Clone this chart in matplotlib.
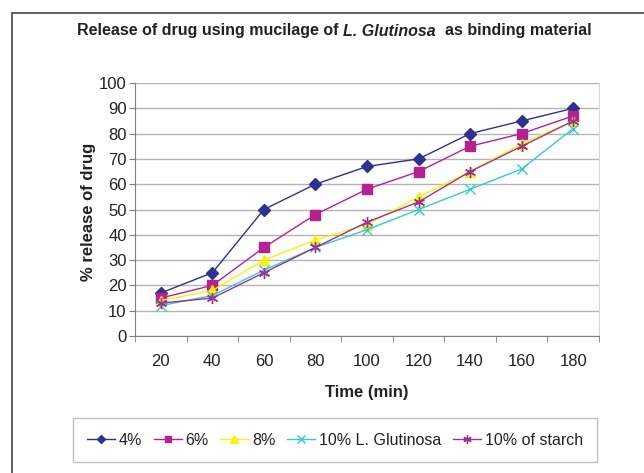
import matplotlib
matplotlib.use("Agg")
import matplotlib.pyplot as plt
from matplotlib.patches import Rectangle
from matplotlib.ticker import MultipleLocator

plt.rcParams['font.family'] = ['Liberation Sans', 'DejaVu Sans']

time_min = ["20", "40", "60", "80", "100", "120", "140", "160", "180"]
pct_4 = [17, 25, 50, 60, 67, 70, 80, 85, 90]
pct_6 = [15, 20, 35, 48, 58, 65, 75, 80, 87]
pct_8 = [14, 18, 30, 38, 44, 55, 65, 76, 85]
pct_10_lg = [12, 16, 26, 35, 42, 50, 58, 66, 82]
pct_10_starch = [13, 15, 25, 35, 45, 53, 65, 75, 85]

series = [
    ("4%", pct_4, "#2E3192", "D", 6),
    ("6%", pct_6, "#B5218E", "s", 6.5),
    ("8%", pct_8, "#FFF200", "^", 7),
    ("10% L. Glutinosa", pct_10_lg, "#33CCCC", "x", 7),
    ("10% of starch", pct_10_starch, "#993399", (6, 2, 0), 8),
]

fig = plt.figure(figsize=(6.44, 4.73), dpi=100)
ax = fig.add_axes([135/644, 1-336/473, 464/644, 253/473])

x = list(range(len(time_min)))
for name, vals, col, mk, ms in series:
    ax.plot(x, vals, color=col, marker=mk, markersize=ms, linewidth=1,
            markeredgecolor=col, markerfacecolor=col, label=name)

ax.set_xlim(-0.5, len(time_min) - 0.5)
ax.set_ylim(0, 100)
ax.yaxis.set_major_locator(MultipleLocator(10))
ax.set_xticks(x)
ax.set_xticklabels(time_min)
ax.set_xticks([i - 0.5 for i in range(len(time_min) + 1)], minor=True)
ax.tick_params(axis='x', which='major', length=0, pad=13, labelsize=12, labelcolor='#222222')
ax.tick_params(axis='x', which='minor', length=4, color='#808080', direction='out')
ax.tick_params(axis='y', length=4, color='#808080', pad=2, labelsize=12, labelcolor='#222222')
ax.grid(axis='y', color='#B4B4B4', linewidth=1)
ax.set_axisbelow(True)
for s in ['left', 'bottom']:
    ax.spines[s].set_color('#808080')
ax.spines['top'].set_visible(False)
ax.spines['right'].set_color('#D8D8D8')

fig.text(88/644, 1-212/473, "% release of drug", rotation=90, ha='center', va='center',
         fontsize=12, fontweight='bold', color='#222222')
fig.text(367/644, 1-393/473, "Time (min)", ha='center', va='center',
         fontsize=12, fontweight='bold', color='#222222')

# title in three pieces (middle part italic)
fig.canvas.draw()
r = fig.canvas.get_renderer()
parts = [("Release of drug using mucilage of ", 'normal'),
         ("L. Glutinosa", 'italic'),
         ("  as binding material", 'normal')]
texts = []
for s, st in parts:
    t = fig.text(0, 1-31/473, s, fontsize=11.5, fontweight='bold', fontstyle=st,
                 va='center', ha='left', color='#222222')
    texts.append(t)
widths = [t.get_window_extent(r).width for t in texts]
total = sum(widths)
xpos = 334 - total / 2
for t, w in zip(texts, widths):
    t.set_x(xpos / 644)
    xpos += w

leg = fig.legend(loc='center', bbox_to_anchor=(335/644, 1-440/473), ncol=5,
                 fontsize=11.5, frameon=True, fancybox=False, edgecolor='#B0B0B0',
                 handlelength=1.75, handletextpad=0.25, columnspacing=0.72,
                 borderpad=0.9, markerscale=0.75)
leg.get_frame().set_linewidth(1)
for txt in leg.get_texts():
    txt.set_color('#222222')

fig.patches.append(Rectangle((12/644, -0.1), 1.0, 1-13/473 + 0.1, transform=fig.transFigure,
                             fill=False, edgecolor='#444444', linewidth=1.2))

fig.savefig("out.png", dpi=100)
